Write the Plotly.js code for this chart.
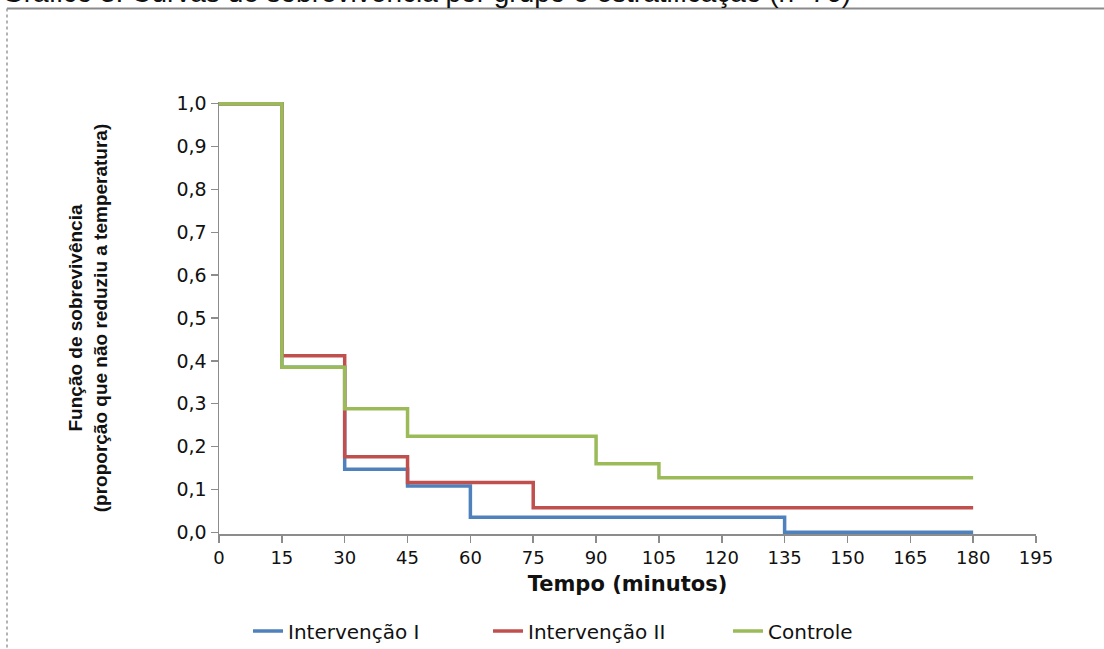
<!DOCTYPE html>
<html>
<head>
<meta charset="utf-8">
<script src="https://cdn.plot.ly/plotly-3.0.1.min.js"></script>
<style>html,body{margin:0;padding:0;background:#fff;}#chart{width:1104px;height:649px;}</style>
</head>
<body>
<div id="chart"></div>
<script>
// Data
const seriesNames = ["Intervenção I", "Intervenção II", "Controle"];
const xInterv1 = [0, 15, 30, 45, 60, 135, 180];
const yInterv1 = [1.0, 0.385, 0.147, 0.108, 0.035, 0.0, 0.0];
const xInterv2 = [0, 15, 30, 45, 75, 180];
const yInterv2 = [1.0, 0.412, 0.176, 0.116, 0.057, 0.057];
const xControle = [0, 15, 30, 45, 90, 105, 180];
const yControle = [1.0, 0.385, 0.288, 0.224, 0.160, 0.127, 0.127];
const xTicks = [0, 15, 30, 45, 60, 75, 90, 105, 120, 135, 150, 165, 180, 195];
const yTicks = [0, 0.1, 0.2, 0.3, 0.4, 0.5, 0.6, 0.7, 0.8, 0.9, 1.0];
const colors = ["#4F81BD", "#C0504D", "#9BBB59"];

const font = "Liberation Sans, Arial, sans-serif";
const wide = "DejaVu Sans, Verdana, sans-serif";
const xs = [xInterv1, xInterv2, xControle];
const ys = [yInterv1, yInterv2, yControle];
const traces = seriesNames.map((n, i) => ({
  type: "scatter", mode: "lines", name: n,
  x: xs[i], y: ys[i],
  line: {shape: "hv", color: colors[i], width: 3.5}
}));

// plot area in pixels: left 219, right 1036, top 103, bottom 533
const L = 219, R = 1036, T = 103, B = 533, W = 1104, H = 649;
const px = p => (p - L) / (R - L);
const py = p => (B - p) / (B - T);

const layout = {
  width: W, height: H,
  margin: {l: L, r: W - R, t: T - 1, b: H - B - 1},
  paper_bgcolor: "#fff", plot_bgcolor: "#fff",
  separators: ",.",
  font: {family: font, color: "#111", size: 16},
  showlegend: true,
  legend: {orientation: "h", xref: "container", yref: "container",
           x: 248 / W, xanchor: "left", y: 1 - 631 / H, yanchor: "middle",
           entrywidth: 195, entrywidthmode: "pixels",
           font: {size: 20, family: wide, color: "#111"}, traceorder: "normal", bgcolor: "rgba(0,0,0,0)"},
  xaxis: {range: [0, 195], tickvals: xTicks, ticktext: xTicks.map(String),
          showgrid: false, zeroline: false, showline: true, linecolor: "#8c8c8c", linewidth: 1.5,
          ticks: "outside", ticklen: 7, tickcolor: "#8c8c8c", tickwidth: 1.5,
          tickfont: {size: 18, family: wide, color: "#111"},
          title: {text: "<b>Tempo (minutos)</b>", font: {size: 21, family: wide, color: "#111"}, standoff: 9}},
  yaxis: {range: [-0.004, 1.004], tickvals: yTicks, tickformat: ".1f",
          showgrid: false, zeroline: false, showline: true, linecolor: "#8c8c8c", linewidth: 1.5,
          ticks: "outside", ticklen: 7, tickcolor: "#8c8c8c", tickwidth: 1.5,
          tickfont: {size: 19, family: wide, color: "#111"},
          title: {text: "<b>Função de sobrevivência<br>(proporção que não reduziu a temperatura)</b>",
                  font: {size: 19, family: font, color: "#111"}, standoff: 64}},
  shapes: [
    {type: "line", xref: "paper", yref: "paper", x0: px(7), x1: px(1110), y0: py(10), y1: py(10),
     line: {color: "#8a8a8a", width: 2}},
    {type: "line", xref: "paper", yref: "paper", x0: px(7), x1: px(7), y0: py(10), y1: py(660),
     line: {color: "#9a9a9a", width: 1.5, dash: "dot"}}
  ],
  annotations: [
    {xref: "paper", yref: "paper", x: px(0), y: py(11), xanchor: "left", yanchor: "bottom",
     text: "Gráfico 3. Curvas de sobrevivência por grupo e estratificação (n=76)", showarrow: false,
     font: {size: 28, family: font, color: "#111"}}
  ]
};

Plotly.newPlot("chart", traces, layout, {displayModeBar: false, staticPlot: true});
</script>
</body>
</html>
